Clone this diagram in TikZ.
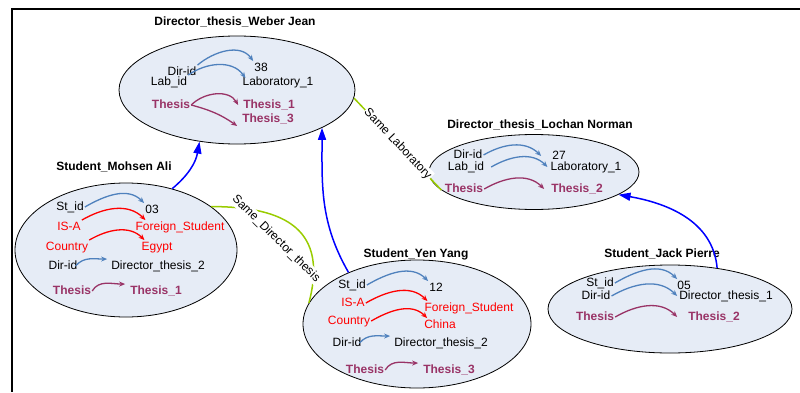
\documentclass[tikz,border=0pt]{standalone}
\usepackage{fontspec}
\setmainfont{Liberation Sans}
\usetikzlibrary{arrows.meta,shapes.geometric,positioning}
\definecolor{ellfill}{RGB}{230,236,246}
\definecolor{linkblue}{RGB}{79,129,189}
\definecolor{thcol}{RGB}{153,51,102}
\definecolor{samegreen}{RGB}{153,204,0}
\begin{document}
\begin{tikzpicture}[x=1pt,y=1pt,
entity/.style={ellipse, draw, line width=0.8pt, fill=ellfill, inner sep=0pt},
title/.style={font=\fontsize{12}{14}\selectfont\bfseries},
field/.style={inner sep=1pt, text height=9pt, text depth=2.5pt, font=\fontsize{12}{14}\selectfont},
redfield/.style={field, text=red},
thfield/.style={field, text=thcol, font=\fontsize{12}{14}\selectfont\bfseries},
link/.style={-{Stealth[length=6pt,width=5pt]}, line width=1.3pt, out=30, in=135},
bluelink/.style={link, draw=linkblue},
redlink/.style={link, draw=red},
thlink/.style={link, draw=thcol},
isa/.style={-{Triangle[length=12pt,width=8pt]}, line width=1.5pt, blue},
same/.style={line width=1.5pt, samegreen},
samelabel/.style={sloped, fill=white, text=black, inner sep=1pt, font=\fontsize{12}{14}\selectfont},
]
\useasboundingbox (0,0) rectangle (800,392);
\draw[line width=2pt] (800,383) -| (12,0);
%entities
\node[entity, minimum width=236, minimum height=108](wj) at (237,302) {};
\node[entity, minimum width=210, minimum height=75](ln) at (534,220) {};
\node[entity, minimum width=222, minimum height=134](ma) at (126,142) {};
\node[entity, minimum width=228, minimum height=128](yy) at (417,68) {};
\node[entity, minimum width=244, minimum height=88](jp) at (670,83) {};
%titles
\node[title](twj) at (235,370) {Director\_thesis\_Weber Jean};
\node[title](tln) at (540,267) {Director\_thesis\_Lochan Norman};
\node[title](tma) at (114,225) {Student\_Mohsen Ali};
\node[title](tyy) at (416,138) {Student\_Yen Yang};
\node[title](tjp) at (662,138) {Student\_Jack Pierre};
%Weber Jean
\node[field](wDir) at (182,320) {Dir-id};
\node[field](wLab) at (169,310) {Lab\_id};
\node[field](w38) at (261,324) {38};
\node[field](wLab1) at (278,310) {Laboratory\_1};
\node[thfield](wTh) at (171,287) {Thesis};
\node[thfield](wTh1) at (269,287) {Thesis\_1};
\node[thfield](wTh3) at (268,273) {Thesis\_3};
%Lochan Norman
\node[field](lDir) at (468,237) {Dir-id};
\node[field](lLab) at (466,225) {Lab\_id};
\node[field](l27) at (559,236) {27};
\node[field](lLab1) at (586,225) {Laboratory\_1};
\node[thfield](lTh) at (464,203) {Thesis};
\node[thfield](lTh2) at (577,203) {Thesis\_2};
%Mohsen Ali
\node[field](mSt) at (70,185) {St\_id};
\node[field](m03) at (152,182) {03};
\node[redfield](mIsa) at (69,165) {IS-A};
\node[redfield](mFs) at (180,165) {Foreign\_Student};
\node[redfield](mCo) at (67,145) {Country};
\node[redfield](mEg) at (157,145) {Egypt};
\node[field](mDir) at (63,126) {Dir-id};
\node[field](mDt) at (158,126) {Director\_thesis\_2};
\node[thfield](mTh) at (72,101) {Thesis};
\node[thfield](mTh1) at (156,101) {Thesis\_1};
%Yen Yang
\node[field](ySt) at (352,107) {St\_id};
\node[field](y12) at (436,104) {12};
\node[redfield](yIsa) at (353,89) {IS-A};
\node[redfield](yFs) at (469,84) {Foreign\_Student};
\node[redfield](yCo) at (349,71) {Country};
\node[redfield](yCh) at (440,67) {China};
\node[field](yDir) at (347,49) {Dir-id};
\node[field](yDt) at (441,49) {Director\_thesis\_2};
\node[thfield](yTh) at (365,22) {Thesis};
\node[thfield](yTh3) at (449,22) {Thesis\_3};
%Jack Pierre
\node[field](jSt) at (600,109) {St\_id};
\node[field](j05) at (684,106) {05};
\node[field](jDir) at (596,96) {Dir-id};
\node[field](jDt) at (726,96) {Director\_thesis\_1};
\node[thfield](jTh) at (595,75) {Thesis};
\node[thfield](jTh2) at (714,75) {Thesis\_2};
%connections inside
\draw[bluelink] (wDir.north east) to[out=40,in=125] (w38.north west);
\draw[bluelink] (wLab.north east) to[out=35,in=125] ([xshift=4pt,yshift=-3pt]wLab1.north west);
\draw[thlink] (wTh.east) to[out=45,in=120] ([xshift=-4pt]wTh1.west);
\draw[thlink] (wTh.east) to[out=-15,in=145] ([xshift=-4pt]wTh3.south west);
\draw[bluelink] (lDir.east) to ([xshift=-10pt]l27.west);
\draw[bluelink] ([xshift=6pt]lLab.east) to ([xshift=-2pt]lLab1.west);
\draw[thlink] (lTh.east) to ([xshift=-6pt]lTh2.west);
\draw[bluelink] (mSt.east) to (m03.north west);
\draw[redlink] (mIsa.north east) to ([xshift=11pt]mFs.north west);
\draw[redlink] (mCo.north east) to ([xshift=4pt]mEg.north west);
\draw[bluelink] ([xshift=-3pt]mDir.east) to[out=50,in=180] ([xshift=-3pt]mDt.north west);
\draw[thlink] (mTh.east) to[out=60,in=180] ([xshift=-4pt]mTh1.north west);
\draw[bluelink] (ySt.east) to (y12.north west);
\draw[redlink] (yIsa.east) to ([xshift=4pt]yFs.north west);
\draw[redlink] (yCo.east) to ([xshift=4pt]yCh.north west);
\draw[bluelink] ([xshift=-3pt]yDir.east) to[out=50,in=180] ([xshift=-3pt]yDt.north west);
\draw[thlink] (yTh.east) to[out=60,in=180] ([xshift=-4pt]yTh3.north west);
\draw[bluelink] (jSt.east) to ([xshift=1pt]j05.north west);
\draw[bluelink] (jDir.east) to ([xshift=-1pt]jDt.west);
\draw[thlink] (jTh.east) to ([xshift=-10pt]jTh2.west);
%connections between
\draw[isa] (ma.53) to[bend right=20] (wj.234);
\draw[isa] (yy.143) to[out=120,in=-90] (wj.-24);
\draw[isa] (jp.41) to[out=95,in=-10] (ln.-15);
\draw[same] (wj.-4) -- node[samelabel](sLab) {Same Laboratory} (ln.191);
\draw[same] (ma.27) to[out=0,in=75,looseness=1.4] (yy.169);
\path (ma.27) -- node[samelabel, above=16pt](sDir) {Same\_Director\_thesis} (yy.169);
\end{tikzpicture}
\end{document}
